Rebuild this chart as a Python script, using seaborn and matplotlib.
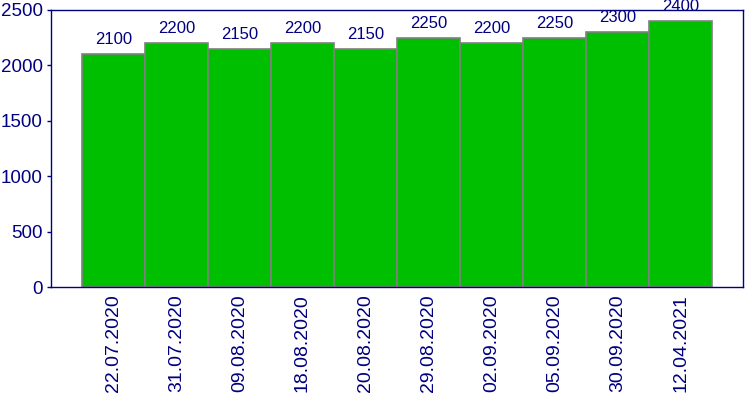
import matplotlib
matplotlib.use("Agg")
import matplotlib.pyplot as plt
import seaborn as sns
import pandas as pd

dates = ["22.07.2020", "31.07.2020", "09.08.2020", "18.08.2020", "20.08.2020",
         "29.08.2020", "02.09.2020", "05.09.2020", "30.09.2020", "12.04.2021"]
values = [2100, 2200, 2150, 2200, 2150, 2250, 2200, 2250, 2300, 2400]

sns.set_theme(style="white")
plt.rcParams['font.family'] = ['Liberation Sans', 'DejaVu Sans']

navy = "#000080"
df = pd.DataFrame({"date": dates, "value": values})

fig = plt.figure(figsize=(7.5, 4), dpi=100)
ax = fig.add_axes([51/750, 113/400, 692/750, 277/400])
sns.barplot(data=df, x="date", y="value", ax=ax, color="#00BF00", saturation=1,
            width=1.0, edgecolor="#808080", linewidth=1.2)
for i, v in enumerate(values):
    ax.annotate(str(v), (i, v), xytext=(0, 5), textcoords="offset points",
                ha="center", va="bottom", fontsize=12, color=navy)
ax.set_xlim(-0.99, 9.99)
ax.set_ylim(0, 2500)
ax.set_yticks([0, 500, 1000, 1500, 2000, 2500])
ax.set_xlabel("")
ax.set_ylabel("")
for s in ax.spines.values():
    s.set_color(navy)
    s.set_linewidth(1)
ax.tick_params(axis="y", colors=navy, labelsize=13.5, length=3, width=1, direction="out", left=True, pad=3)
ax.tick_params(axis="x", colors=navy, labelsize=14, length=0, rotation=90, bottom=False, pad=5)
for t in ax.get_xticklabels():
    t.set_color(navy)
fig.savefig("out.png", dpi=100)
